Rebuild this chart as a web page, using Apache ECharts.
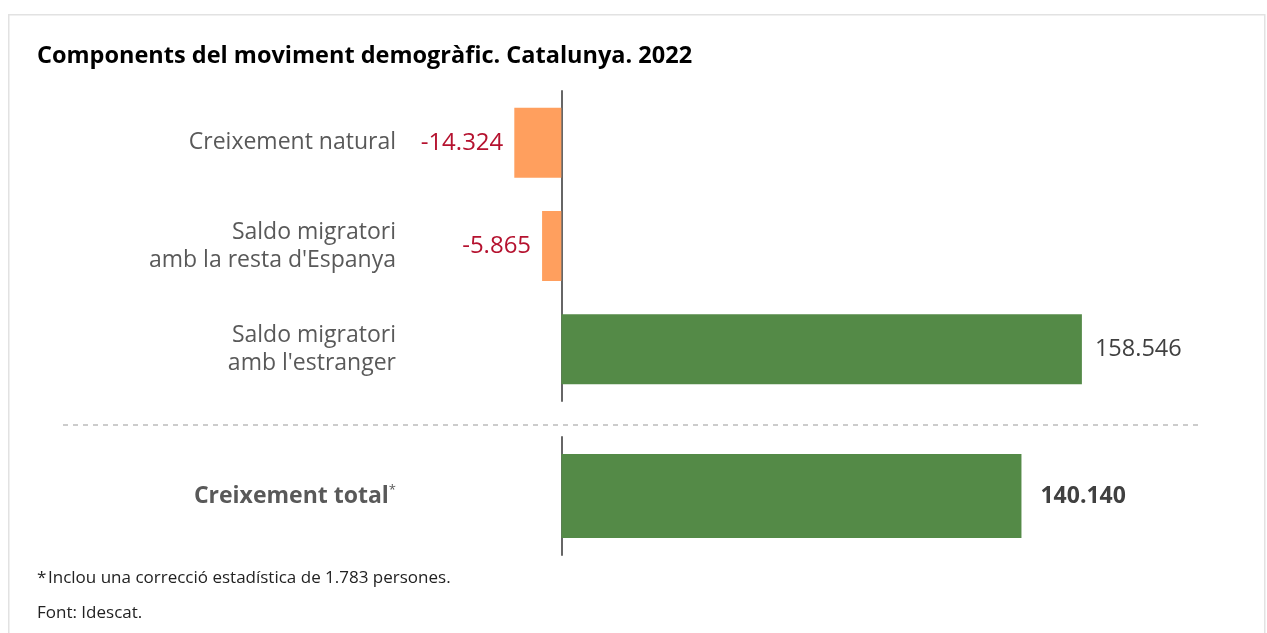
<!DOCTYPE html>
<html>
<head>
<meta charset="utf-8">
<script src="https://cdn.jsdelivr.net/npm/echarts@6/dist/echarts.min.js"></script>
<style>
  html, body { margin: 0; padding: 0; background: #fff; }
  #main { width: 1267px; height: 633px; }
</style>
</head>
<body>
<div id="main"></div>
<script>
// components of demographic change, Catalonia 2022
const compCategories = ["Creixement natural", "Saldo migratori\namb la resta d'Espanya", "Saldo migratori\namb l'estranger"];
const compValues = [-14324, -5865, 158546];
const totalCategories = ["Creixement total"];
const totalValues = [140140];

const axisMin = -40000;
const axisMax = 200000;

const fmt = (v) => {
    const s = Math.abs(v).toString().replace(/\B(?=(\d{3})+(?!\d))/g, ".");
    return (v < 0 ? "-" : "") + s;
};

const chart = echarts.init(document.getElementById("main"));

const option = {
    backgroundColor: "#fff",
    textStyle: { fontFamily: "Open Sans" },
    title: {
        text: "Components del moviment demogràfic. Catalunya. 2022",
        left: 32,
        top: 39,
        textStyle: { fontFamily: "Open Sans", fontWeight: "bold", fontSize: 23.5, color: "#000" }
    },
    grid: [
        { left: 430, right: 49, top: 91, height: 310 },
        { left: 430, right: 49, top: 437, height: 118 }
    ],
    xAxis: [
        { gridIndex: 0, type: "value", min: axisMin, max: axisMax, show: false, splitLine: { show: false } },
        { gridIndex: 1, type: "value", min: axisMin, max: axisMax, show: false, splitLine: { show: false } }
    ],
    yAxis: [
        {
            gridIndex: 0, type: "category", inverse: true, data: compCategories,
            axisTick: { show: false },
            axisLine: { onZero: true, lineStyle: { color: "#666", width: 2 } },
            axisLabel: {
                margin: 34, fontSize: 23, color: "#595959", lineHeight: 28, align: "right",
                padding: [4, 0, 0, 0],
                fontFamily: "Open Sans"
            }
        },
        {
            gridIndex: 1, type: "category", inverse: true, data: totalCategories,
            axisTick: { show: false },
            axisLine: { onZero: true, lineStyle: { color: "#666", width: 2 } },
            axisLabel: {
                margin: 34, align: "right",
                formatter: (v) => "{b|" + v + "}{s|*}",
                rich: {
                    b: { fontSize: 23, fontWeight: "bold", color: "#595959", fontFamily: "Open Sans" },
                    s: { fontSize: 13, color: "#595959", verticalAlign: "top", padding: [0, 0, 12, 0], fontFamily: "Open Sans" }
                }
            }
        }
    ],
    series: [
        {
            type: "bar", xAxisIndex: 0, yAxisIndex: 0, barWidth: 70,
            data: compValues.map((v) => ({
                value: v,
                itemStyle: { color: v < 0 ? "#ff9f5e" : "#548a47" },
                label: {
                    show: true,
                    position: v < 0 ? "left" : "right",
                    distance: v < 0 ? 11 : 13,
                    color: v < 0 ? "#b5122f" : "#404040",
                    fontSize: v < 0 ? 24 : 23.5,
                    padding: [4, 0, 0, 0],
                    fontFamily: "Open Sans",
                    formatter: () => fmt(v)
                }
            }))
        },
        {
            type: "bar", xAxisIndex: 1, yAxisIndex: 1, barWidth: 84,
            data: totalValues.map((v) => ({
                value: v,
                itemStyle: { color: "#548a47" },
                label: {
                    show: true, position: "right", distance: 19,
                    color: "#404040", fontSize: 23, fontWeight: "bold",
                    fontFamily: "Open Sans",
                    formatter: () => fmt(v)
                }
            }))
        }
    ],
    graphic: [
        {
            type: "rect", left: 8, top: 14, z: -1,
            shape: { width: 1256, height: 640 },
            style: { fill: "#fff", stroke: "#e2e2e2", lineWidth: 1.5 }
        },
        {
            type: "line", z: 1,
            shape: { x1: 63, y1: 425, x2: 1198, y2: 425 },
            style: { stroke: "#999", lineWidth: 1, lineDash: [5, 5] }
        },
        {
            type: "text", left: 37, top: 570,
            style: { text: "*", fontSize: 17, fill: "#222", fontFamily: "Open Sans" }
        },
        {
            type: "text", left: 48, top: 570,
            style: { text: "Inclou una correcció estadística de 1.783 persones.", fontSize: 17, fill: "#222", fontFamily: "Open Sans" }
        },
        {
            type: "text", left: 37, top: 605,
            style: { text: "Font: Idescat.", fontSize: 17, fill: "#222", fontFamily: "Open Sans" }
        }
    ]
};

chart.setOption(option);
</script>
</body>
</html>
